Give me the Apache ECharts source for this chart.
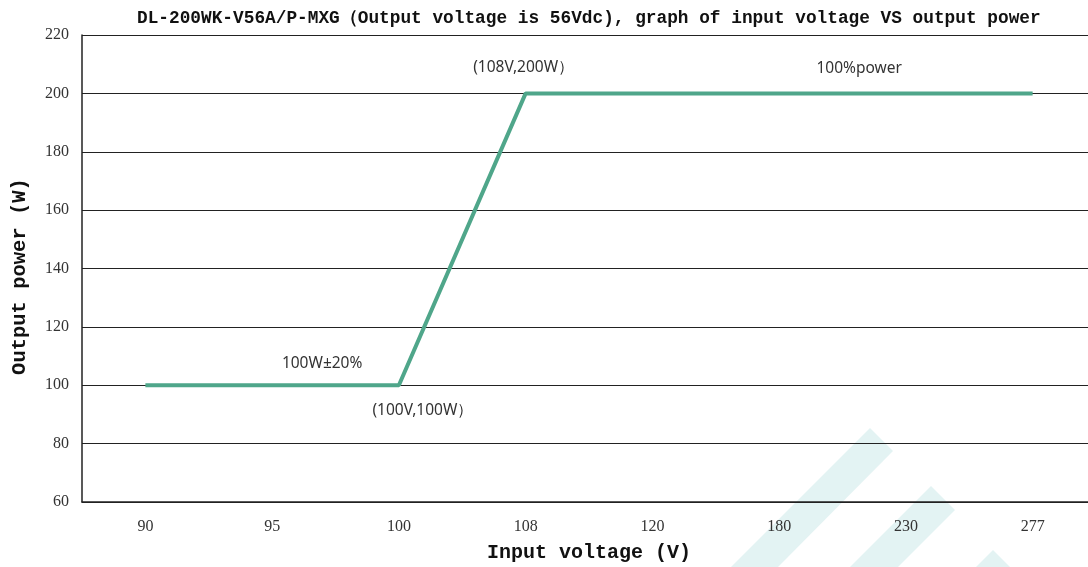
<!DOCTYPE html>
<html><head><meta charset="utf-8">
<script src="https://cdn.jsdelivr.net/npm/echarts@6/dist/echarts.min.js"></script>
<style>html,body{margin:0;padding:0;background:#fff}#c{width:1088px;height:567px}</style>
</head><body><div id="c"></div>
<script>
const categories = ['90', '95', '100', '108', '120', '180', '230', '277'];
const powerValues = [100, 100, 100, 200, 200, 200, 200, 200];
const yTicks = {min: 60, max: 220, interval: 20};
const annotations = [
  {text: '(108V,200W）', x: '108', y: 200},
  {text: '100%power', x: '180', y: 200},
  {text: '100W±20%', x: '95', y: 100},
  {text: '(100V,100W）', x: '100', y: 100}
];
const annotationOffsets = [[-2, -26], [80, -25], [50, -22], [24, 25]];

const chart = echarts.init(document.getElementById('c'));
const sansFont = '"Noto Sans", "DejaVu Sans", sans-serif';
const monoFont = '"Liberation Mono", "DejaVu Sans Mono", monospace';
const serifFont = '"Liberation Serif", "DejaVu Serif", serif';

chart.setOption({
  animation: false,
  backgroundColor: '#fff',
  title: {
    text: 'DL-200WK-V56A/P-MXG（Output voltage is 56Vdc), graph of input voltage VS output power',
    left: 132, top: 5,
    textStyle: {fontFamily: monoFont, fontWeight: 'bold', fontSize: 17.8, color: '#111'}
  },
  graphic: [
    {type: 'polygon', z: -10, shape: {points: [[870,428],[893,451],[778,567],[731,567]]}, style: {fill: '#e3f3f3'}},
    {type: 'polygon', z: -10, shape: {points: [[931,486],[955,510],[898,567],[850,567]]}, style: {fill: '#e3f3f3'}},
    {type: 'polygon', z: -10, shape: {points: [[993,550],[1010,567],[976,567]]}, style: {fill: '#e3f3f3'}}
  ],
  grid: {left: 82, width: 1014, top: 35, bottom: 65, containLabel: false, outerBoundsMode: 'none'},
  xAxis: {
    type: 'category',
    data: categories,
    boundaryGap: true,
    name: 'Input voltage (V)',
    nameLocation: 'middle',
    nameGap: 41,
    nameTextStyle: {fontFamily: monoFont, fontWeight: 'bold', fontSize: 20, color: '#111'},
    axisLine: {lineStyle: {color: '#222', width: 1.5}},
    axisTick: {show: false},
    axisLabel: {margin: 17, fontFamily: serifFont, fontSize: 16, color: '#333'}
  },
  yAxis: {
    type: 'value',
    min: yTicks.min, max: yTicks.max, interval: yTicks.interval,
    name: 'Output power (W)',
    nameLocation: 'middle',
    nameGap: 52,
    nameRotate: 90,
    nameTextStyle: {fontFamily: monoFont, fontWeight: 'bold', fontSize: 20.5, color: '#111', padding: [0, 16, 0, 0]},
    axisLine: {show: true, lineStyle: {color: '#222', width: 1.5}},
    axisTick: {show: false},
    axisLabel: {margin: 13, fontFamily: serifFont, fontSize: 16, color: '#333'},
    splitLine: {show: true, lineStyle: {color: '#222', width: 1.2}}
  },
  series: [{
    type: 'line',
    data: powerValues,
    symbol: 'none',
    lineStyle: {color: '#4fa68a', width: 4},
    markPoint: {
      symbol: 'circle', symbolSize: 0,
      label: {show: true, fontFamily: sansFont, fontSize: 15.5, color: '#333'},
      data: annotations.map((a, i) => ({
        coord: [a.x, a.y],
        label: {formatter: a.text, offset: annotationOffsets[i]}
      }))
    }
  }]
});
</script></body></html>
